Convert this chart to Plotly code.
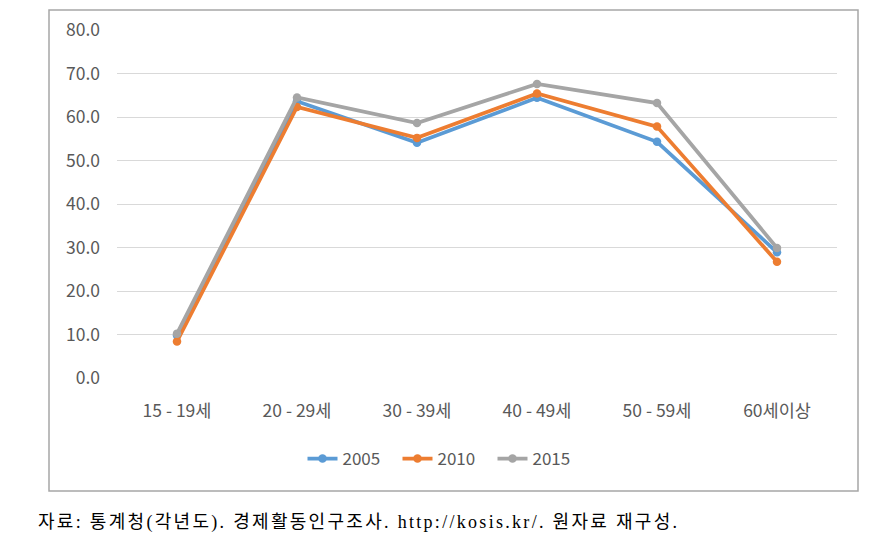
import plotly.graph_objects as go

categories = ["15 - 19세", "20 - 29세", "30 - 39세", "40 - 49세", "50 - 59세", "60세이상"]
y2005 = [9.8, 63.6, 54.1, 64.4, 54.3, 28.9]
y2010 = [8.4, 62.3, 55.2, 65.4, 57.8, 26.7]
y2015 = [10.2, 64.5, 58.6, 67.6, 63.2, 29.9]
series_names = ["2005", "2010", "2015"]
colors = ["#5B9BD5", "#ED7D31", "#A5A5A5"]
yticks = [0, 10, 20, 30, 40, 50, 60, 70, 80]
caption = "자료: 통계청(각년도). 경제활동인구조사. http://kosis.kr/. 원자료 재구성."

fig = go.Figure()
for name, vals, c in zip(series_names, [y2005, y2010, y2015], colors):
    fig.add_trace(go.Scatter(
        x=categories, y=vals, name=name, mode="lines+markers",
        line=dict(color=c, width=3.75),
        marker=dict(color=c, size=8.5, symbol="circle"),
    ))

# page body offset of 8px in the browser
OFF = 8
W, H = 885, 546
L, R, T, B = 117 - OFF, 837 - OFF, 30 - OFF, 378 - OFF
def px(x):
    return (x - OFF - L) / (R - L)
def py(y):
    return (B - (y - OFF)) / (B - T)

fig.update_layout(
    width=W, height=H,
    margin=dict(l=L, r=W - R, t=T, b=H - B, autoexpand=False),
    paper_bgcolor="white", plot_bgcolor="white",
    font=dict(family="Noto Sans CJK KR, Noto Sans, sans-serif", size=17, color="#595959"),
    showlegend=True,
    legend=dict(orientation="h", x=px(445), xanchor="center", y=py(459), yanchor="middle",
                font=dict(size=17, color="#595959"), traceorder="normal",
                entrywidth=50, entrywidthmode="pixels",
                bgcolor="rgba(0,0,0,0)"),
    xaxis=dict(type="category", range=[-0.5, 5.5], showgrid=False, zeroline=False,
               showline=False, ticks="", ticklabelstandoff=20,
               tickfont=dict(size=17.5, color="#595959")),
    yaxis=dict(range=[0, 80], tickvals=yticks, tickformat=".1f", showgrid=True,
               gridcolor="#D9D9D9", gridwidth=1, zeroline=False, showline=False,
               ticks="", ticklabelstandoff=16, tickfont=dict(size=17.5, color="#595959")),
    shapes=[dict(type="rect", xref="paper", yref="paper",
                 x0=px(49), x1=px(858), y0=py(491), y1=py(10),
                 line=dict(color="#A6A6A6", width=1.5), fillcolor="rgba(0,0,0,0)", layer="below")],
    annotations=[dict(text='<span style="letter-spacing:2.3px">' + caption + '</span>',
                      xref="paper", yref="paper", x=px(36), y=py(522),
                      xanchor="left", yanchor="middle", showarrow=False,
                      font=dict(family="Liberation Serif, Noto Sans CJK KR, serif", size=18, color="#000000"))],
)

fig.write_html("out.html")
